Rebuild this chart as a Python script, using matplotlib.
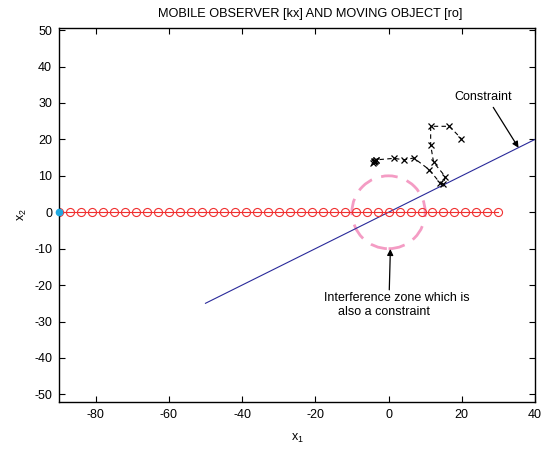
import matplotlib
matplotlib.use("Agg")
import matplotlib.pyplot as plt
from matplotlib.patches import Circle

plt.rcParams['font.family'] = ['Liberation Sans', 'DejaVu Sans']
plt.rcParams['mathtext.default'] = 'regular'
plt.rcParams['axes.unicode_minus'] = False

# moving object positions (red circles along x2 = 0)
obj_x = [-90, -87, -84, -81, -78, -75, -72, -69, -66, -63, -60, -57, -54, -51,
         -48, -45, -42, -39, -36, -33, -30, -27, -24, -21, -18, -15, -12, -9,
         -6, -3, 0, 3, 6, 9, 12, 15, 18, 21, 24, 27, 30]
obj_y = [0] * len(obj_x)

# mobile observer path (black x)
obs_x = [-4.3, -4.1, -3.9, -3.7, -3.5, -3.3, 1.5, 4.2, 6.9, 11.1, 14.1, 15.0,
         15.5, 12.3, 11.5, 11.5, 16.6, 19.9]
obs_y = [13.6, 13.8, 14.0, 14.1, 14.3, 14.4, 14.8, 14.4, 14.9, 11.7, 8.0, 7.8,
         9.8, 13.7, 18.5, 23.6, 23.6, 20.2]

# constraint line
con_x = [-50, 40]
con_y = [-25, 20]

# interference zone
zone_center = (0, 0)
zone_radius = 10

start_x, start_y = -90, 0

fig = plt.figure(figsize=(5.42, 4.49), dpi=100)
ax = fig.add_axes([0.1089, 0.1047, 0.8782, 0.8330])

ax.plot(con_x, con_y, color='#2a2a9a', lw=0.8)
ax.plot(obj_x, obj_y, 'o-', color='#f03030', mfc='none', mec='#f03030',
        ms=5.8, mew=0.8, lw=0.8)
ax.plot(obs_x, obs_y, 'x--', color='black', ms=4, mew=0.9, lw=0.8,
        dashes=(4, 3))
ax.add_patch(Circle(zone_center, zone_radius, fill=False, ec='#f49cc4',
                    lw=2, ls=(0, (6, 3.5))))
ax.plot([start_x], [start_y], 'o', color='#20a8e0', ms=4.5, zorder=5,
        clip_on=False)

arrow = dict(arrowstyle='-|>', color='black', lw=0.9, mutation_scale=9,
             shrinkA=0, shrinkB=0)
ax.text(25.9, 31.7, 'Constraint', ha='center', va='center', fontsize=9)
ax.annotate('', xy=(35.5, 17.7), xytext=(28.6, 28.8), arrowprops=arrow)
ax.text(-17.6, -25.5, 'Interference zone which is\n    also a constraint',
        ha='left', va='center', fontsize=9, linespacing=1.3)
ax.annotate('', xy=(0.5, -10.1), xytext=(0.2, -21.3), arrowprops=arrow)

ax.set_xlim(-90, 40)
ax.set_ylim(-52.1, 50.6)
ax.set_xticks([-80, -60, -40, -20, 0, 20, 40])
ax.set_yticks([-50, -40, -30, -20, -10, 0, 10, 20, 30, 40, 50])
ax.tick_params(direction='in', top=True, right=True, length=4, width=0.8,
               labelsize=9, pad=5)
for s in ax.spines.values():
    s.set_linewidth(1.0)

ax.set_xlabel('x$_1$', fontsize=9, labelpad=8)
ax.set_ylabel('x$_2$', fontsize=9, labelpad=4)
fig.text(310 / 542, 1 - 14 / 449, 'MOBILE OBSERVER [kx] AND MOVING OBJECT [ro]',
         ha='center', va='center', fontsize=9.2)

fig.savefig('out.png', dpi=100)
